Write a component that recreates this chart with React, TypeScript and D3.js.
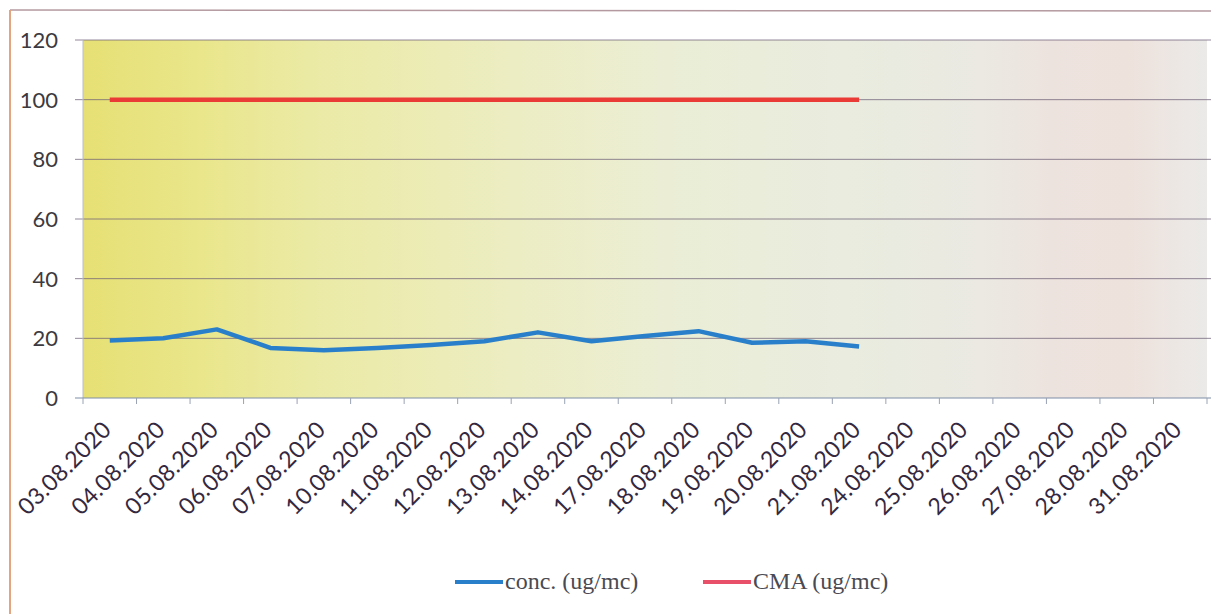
import { useEffect, useRef } from 'react';
import * as d3 from 'd3';

const dates = [
  '03.08.2020', '04.08.2020', '05.08.2020', '06.08.2020', '07.08.2020',
  '10.08.2020', '11.08.2020', '12.08.2020', '13.08.2020', '14.08.2020',
  '17.08.2020', '18.08.2020', '19.08.2020', '20.08.2020', '21.08.2020',
  '24.08.2020', '25.08.2020', '26.08.2020', '27.08.2020', '28.08.2020',
  '31.08.2020',
];
// measured values only exist up to 21.08.2020
const conc = [19.3, 20, 23, 16.8, 16, 16.8, 17.8, 19, 22, 19, 20.8, 22.4, 18.5, 19, 17.3];
const cma = [100, 100, 100, 100, 100, 100, 100, 100, 100, 100, 100, 100, 100, 100, 100];
const yTicks = [0, 20, 40, 60, 80, 100, 120];

const W = 1211;
const H = 614;

export default function App() {
  const svgRef = useRef<SVGSVGElement>(null);

  useEffect(() => {
    if (!svgRef.current) return;
    const margin = { top: 40, left: 83, right: 4, bottom: 216 };
    const innerW = W - margin.left - margin.right;
    const innerH = H - margin.top - margin.bottom;

    const svg = d3.select(svgRef.current);
    svg.selectAll('*').remove();

    svg.append('rect').attr('width', W).attr('height', H).attr('fill', '#ffffff');

    const defs = svg.append('defs');
    const grad = defs.append('linearGradient')
      .attr('id', 'plotBg')
      .attr('x1', '0%').attr('x2', '100%').attr('y1', '0%').attr('y2', '0%');
    [
      [0, '#e6e074'], [0.1, '#e9e68a'], [0.2, '#ebeaa4'], [0.38, '#ecedc2'],
      [0.52, '#ebeed5'], [0.68, '#e9ecdf'], [0.8, '#ebe9e2'], [0.86, '#ede3de'],
      [0.93, '#eee2dc'], [1, '#ebeae8'],
    ].forEach(([o, c]) => grad.append('stop').attr('offset', o as number).attr('stop-color', c as string));

    // chart area border (scan frame)
    svg.append('line').attr('x1', 10).attr('x2', W).attr('y1', 10).attr('y2', 11)
      .attr('stroke', '#b49aa0').attr('stroke-width', 1.5);
    svg.append('line').attr('x1', 10).attr('x2', 10).attr('y1', 10).attr('y2', H)
      .attr('stroke', '#e4a47e').attr('stroke-width', 2);

    const g = svg.append('g').attr('transform', `translate(${margin.left},${margin.top})`);

    const x = d3.scaleBand<string>().domain(dates).range([0, innerW]).padding(0);
    const y = d3.scaleLinear().domain([0, 120]).range([innerH, 0]);
    const cx = (d: string) => (x(d) ?? 0) + x.bandwidth() / 2;

    g.append('rect').attr('width', innerW).attr('height', innerH).attr('fill', 'url(#plotBg)');

    // horizontal gridlines
    g.append('g')
      .selectAll('line')
      .data(yTicks.filter(t => t > 0))
      .join('line')
      .attr('x1', -8)
      .attr('x2', innerW + margin.right)
      .attr('y1', d => y(d))
      .attr('y2', d => y(d))
      .attr('stroke', '#6e6078')
      .attr('stroke-opacity', 0.75)
      .attr('stroke-width', 1);

    // y axis
    g.append('line').attr('x1', 0).attr('x2', 0).attr('y1', 0).attr('y2', innerH)
      .attr('stroke', '#b7bcc4').attr('stroke-width', 1);
    g.append('g')
      .selectAll('text')
      .data(yTicks)
      .join('text')
      .attr('x', -25)
      .attr('y', d => y(d))
      .attr('dy', '0.36em')
      .attr('text-anchor', 'end')
      .style('font-family', 'Lato, "Open Sans", sans-serif')
      .style('font-size', '22px')
      .style('fill', '#3c3a3e')
      .text(d => d);

    // x axis
    g.append('line').attr('x1', -8).attr('x2', innerW + margin.right).attr('y1', innerH).attr('y2', innerH)
      .attr('stroke', '#7f8ea8').attr('stroke-width', 1.2);
    g.append('g')
      .selectAll('line')
      .data([...dates.map(d => x(d) ?? 0), innerW])
      .join('line')
      .attr('x1', d => d).attr('x2', d => d)
      .attr('y1', innerH).attr('y2', innerH + 6)
      .attr('stroke', '#9aa2b4').attr('stroke-width', 1);

    g.append('g')
      .selectAll('text')
      .data(dates)
      .join('text')
      .attr('transform', d => `translate(${cx(d) + 3},${innerH + 33}) rotate(-45)`)
      .attr('text-anchor', 'end')
      .style('font-family', 'Lato, "Open Sans", sans-serif')
      .style('font-size', '23px')
      .style('letter-spacing', '0.3px')
      .style('fill', '#34283f')
      .text(d => d);

    const line = d3.line<number>()
      .x((_, i) => cx(dates[i]))
      .y(d => y(d));

    g.append('path')
      .datum(cma)
      .attr('d', line)
      .attr('fill', 'none')
      .attr('stroke', '#ea3b36')
      .attr('stroke-width', 4.5);

    g.append('path')
      .datum(conc)
      .attr('d', line)
      .attr('fill', 'none')
      .attr('stroke', '#2a7fcb')
      .attr('stroke-width', 4.5)
      .attr('stroke-linejoin', 'round');

    // legend
    const legend = svg.append('g');
    const items = [
      { label: 'conc. (ug/mc)', color: '#2a7fcb', x: 455 },
      { label: 'CMA (ug/mc)', color: '#e8506a', x: 703 },
    ];
    items.forEach(it => {
      legend.append('line')
        .attr('x1', it.x).attr('x2', it.x + 48)
        .attr('y1', 582).attr('y2', 582)
        .attr('stroke', it.color).attr('stroke-width', 4);
      legend.append('text')
        .attr('x', it.x + 50)
        .attr('y', 589)
        .style('font-family', '"Liberation Serif", "DejaVu Serif", serif')
        .style('font-size', '24px')
        .style('fill', '#4a4a52')
        .text(it.label);
    });
  }, []);

  return (
    <svg
      ref={svgRef}
      width={W}
      height={H}
      style={{ position: 'absolute', left: 0, top: 0, display: 'block' }}
    />
  );
}
